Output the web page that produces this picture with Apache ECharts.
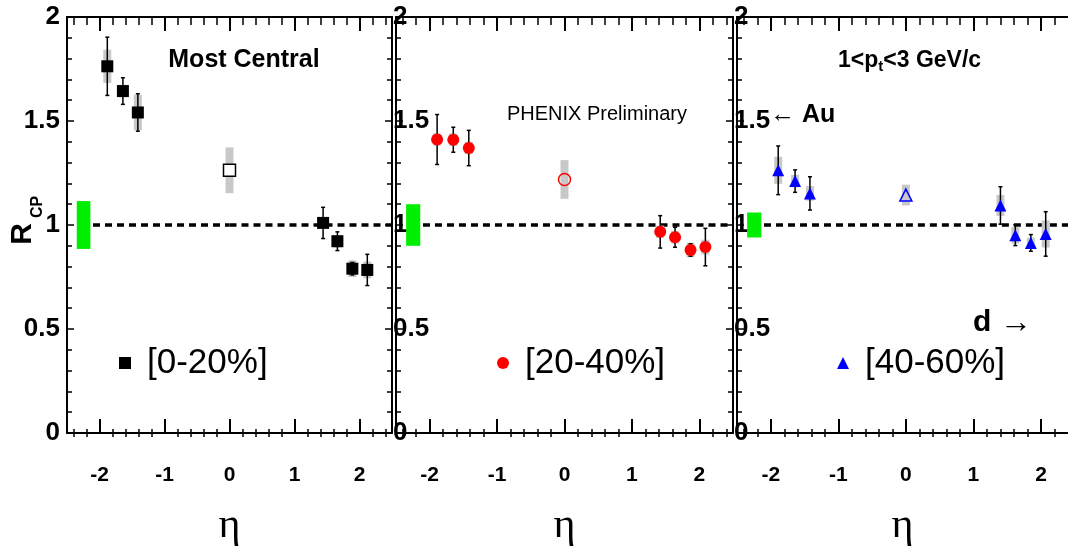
<!DOCTYPE html>
<html><head><meta charset="utf-8">
<script src="https://cdn.jsdelivr.net/npm/echarts@6/dist/echarts.min.js"></script>
<style>html,body{margin:0;padding:0;background:#fff}#c{width:1068px;height:552px}</style>
</head><body><div id="c"></div>
<script>
// ---------- data ----------
const xMajorTicks = [-2, -1, 0, 1, 2];
const xMinorTicks = [-2.4, -2.2, -1.8, -1.6, -1.4, -1.2, -0.8, -0.6, -0.4, -0.2, 0.2, 0.4, 0.6, 0.8, 1.2, 1.4, 1.6, 1.8, 2.2, 2.4];
const legendNames = ['[0-20%]', '[20-40%]', '[40-60%]'];

const eta1 = [-1.88, -1.64, -1.41, 1.44, 1.66, 1.89, 2.12];
const rcp1 = [1.763, 1.644, 1.541, 1.010, 0.922, 0.790, 0.784];
const stat1 = [0.14, 0.064, 0.09, 0.075, 0.045, 0.03, 0.075];
const sys1 = [0.08, 0.03, 0.085, 0.025, 0.03, 0.04, 0.04];

const eta2 = [-1.89, -1.65, -1.42, 1.42, 1.64, 1.87, 2.09];
const rcp2 = [1.411, 1.410, 1.370, 0.967, 0.941, 0.880, 0.894];
const stat2 = [0.12, 0.06, 0.085, 0.078, 0.048, 0.03, 0.09];
const sys2 = [0.03, 0.03, 0.03, 0.03, 0.03, 0.035, 0.035];

const eta3 = [-1.89, -1.64, -1.42, 1.40, 1.62, 1.85, 2.07];
const rcp3 = [1.263, 1.211, 1.152, 1.094, 0.951, 0.914, 0.957];
const stat3 = [0.117, 0.054, 0.08, 0.09, 0.05, 0.04, 0.107];
const sys3 = [0.065, 0.03, 0.035, 0.05, 0.04, 0.025, 0.065];

const midEta = [0, 0, 0];
const midRcp = [1.263, 1.219, 1.144];
const midSys = [0.11, 0.093, 0.05];

const normErr = [0.115, 0.10, 0.06];
const normEta = [-2.35, -2.14];
const unitySegments = [[-2.1, 0], [0, 2.5]];
const etaMin = -2.5;
const etaMax = [2.5, 2.5, 2.4];   // third panel is cut by the picture's right edge

// ---------- layout / style ----------
const FONT = '"Liberation Sans", Arial, Helvetica, sans-serif';
const panels = [
  {box: {left: 67, width: 325}, eta: eta1, rcp: rcp1, stat: stat1, sys: sys1, color: '#000000', symbol: 'rect', midFill: '#ffffff', legendLeft: 119, rightAxis: true},
  {box: {left: 396, width: 337}, eta: eta2, rcp: rcp2, stat: stat2, sys: sys2, color: '#ff0000', symbol: 'circle', midFill: 'rgba(0,0,0,0)', legendLeft: 497, rightAxis: true},
  {box: {left: 737, width: 331}, eta: eta3, rcp: rcp3, stat: stat3, sys: sys3, color: '#0000ff', symbol: 'triangle', midFill: 'rgba(0,0,0,0)', legendLeft: 837, rightAxis: false}
];
const TOP = 17, HEIGHT = 420;

const grid = [], xAxis = [], yAxis = [], series = [], legend = [];
panels.forEach(p => grid.push(Object.assign({top: TOP, height: HEIGHT, containLabel: false}, p.box)));
panels.forEach(p => grid.push(Object.assign({top: TOP, height: HEIGHT, containLabel: false}, p.box)));

function xMajor(gi, pos, max) {
  const bottom = pos === 'bottom';
  return {
    type: 'value', gridIndex: gi, position: pos, min: etaMin, max: max,
    axisLine: {show: true, onZero: false, lineStyle: {color: '#000', width: 2}},
    axisTick: {show: true, inside: true, length: 14, customValues: xMajorTicks, lineStyle: {color: '#000', width: 2}},
    axisLabel: {show: bottom, customValues: xMajorTicks, fontSize: 21, fontWeight: 'bold', color: '#000', margin: 32, fontFamily: FONT},
    splitLine: {show: false},
    name: bottom ? 'η' : '', nameLocation: 'middle', nameGap: 72,
    nameTextStyle: {fontSize: 42, fontFamily: '"Liberation Serif", "DejaVu Serif", serif', color: '#000'}
  };
}
function xMinor(gi, pos, max) {
  return {
    type: 'value', gridIndex: gi, position: pos, min: etaMin, max: max,
    axisLine: {show: false, onZero: false},
    axisTick: {show: true, inside: true, length: 8, customValues: xMinorTicks.filter(v => v < max), lineStyle: {color: '#000', width: 1.5}},
    axisLabel: {show: false}, splitLine: {show: false}
  };
}
function yAx(gi, pos, pi, visible) {
  const left = pos === 'left';
  return {
    type: 'value', gridIndex: gi, position: pos, min: 0, max: 2, interval: 0.5, show: visible,
    axisLine: {show: true, onZero: false, lineStyle: {color: '#000', width: 2}},
    axisTick: {show: true, inside: true, length: 7, lineStyle: {color: '#000', width: 1.5}},
    minorTick: {show: true, splitNumber: 5, length: 5, lineStyle: {color: '#000', width: 1.5}},
    axisLabel: {show: left, inside: pi > 0, margin: pi > 0 ? -3 : 7, fontSize: 26, fontWeight: 'bold', color: '#000', fontFamily: FONT},
    splitLine: {show: false}
  };
}

panels.forEach((p, i) => {
  xAxis.push(xMajor(i, 'bottom', etaMax[i]));   // 2i
  xAxis.push(xMajor(i, 'top', etaMax[i]));      // 2i+1
  yAxis.push(yAx(i, 'left', i, true));          // 2i
  yAxis.push(yAx(i, 'right', i, p.rightAxis));  // 2i+1
});
panels.forEach((p, i) => {
  xAxis.push(xMinor(i + 3, 'bottom', etaMax[i]));
  xAxis.push(xMinor(i + 3, 'top', etaMax[i]));
  yAxis.push({type: 'value', gridIndex: i + 3, min: 0, max: 2, show: false, axisLine: {onZero: false}});
});

panels.forEach((p, i) => {
  const xi = 2 * i, yi = 2 * i;
  // normalisation box
  series.push({
    type: 'custom', xAxisIndex: xi, yAxisIndex: yi, z: 1, silent: true,
    data: [[normEta[0], normEta[1], 1 - normErr[i], 1 + normErr[i]]],
    encode: {x: [0, 1], y: [2, 3]},
    renderItem: (params, api) => {
      const a = api.coord([api.value(0), api.value(3)]);
      const b = api.coord([api.value(1), api.value(2)]);
      return {type: 'rect', shape: {x: a[0], y: a[1], width: b[0] - a[0], height: b[1] - a[1]}, style: {fill: '#00ee00'}};
    }
  });
  // unity dashed line
  series.push({
    type: 'custom', xAxisIndex: xi, yAxisIndex: yi, z: 2, silent: true,
    data: unitySegments.map(s => [s[0], s[1], 1]),
    encode: {x: [0, 1], y: 2},
    renderItem: (params, api) => {
      const a = api.coord([api.value(0), api.value(2)]);
      const b = api.coord([api.value(1), api.value(2)]);
      return {type: 'line', shape: {x1: a[0], y1: a[1], x2: b[0], y2: b[1]}, style: {stroke: '#000', lineWidth: 3.5, lineDash: [7, 5]}};
    }
  });
  // systematic boxes (including central point)
  const sysData = p.eta.map((e, k) => [e, p.rcp[k], p.sys[k]]).concat([[midEta[i], midRcp[i], midSys[i]]]);
  series.push({
    type: 'custom', xAxisIndex: xi, yAxisIndex: yi, z: 3, silent: true,
    data: sysData, encode: {x: 0, y: 1},
    renderItem: (params, api) => {
      const x = api.value(0), y = api.value(1), s = api.value(2);
      const t = api.coord([x, y + s]), b = api.coord([x, y - s]);
      return {type: 'rect', shape: {x: t[0] - 4, y: t[1], width: 8, height: b[1] - t[1]}, style: {fill: '#c8c8c8'}};
    }
  });
  // statistical error bars
  series.push({
    type: 'custom', xAxisIndex: xi, yAxisIndex: yi, z: 4, silent: true,
    data: p.eta.map((e, k) => [e, p.rcp[k], p.stat[k]]), encode: {x: 0, y: 1},
    renderItem: (params, api) => {
      const x = api.value(0), y = api.value(1), s = api.value(2);
      const t = api.coord([x, y + s]), b = api.coord([x, y - s]);
      const st = {stroke: '#000', lineWidth: 1.5};
      return {type: 'group', children: [
        {type: 'line', shape: {x1: t[0], y1: t[1], x2: b[0], y2: b[1]}, style: st},
        {type: 'line', shape: {x1: t[0] - 2, y1: t[1], x2: t[0] + 2, y2: t[1]}, style: st},
        {type: 'line', shape: {x1: b[0] - 2, y1: b[1], x2: b[0] + 2, y2: b[1]}, style: st}
      ]};
    }
  });
  // main points
  series.push({
    type: 'scatter', name: legendNames[i], xAxisIndex: xi, yAxisIndex: yi, z: 5,
    symbol: p.symbol, symbolSize: 12, itemStyle: {color: p.color, opacity: 1},
    data: p.eta.map((e, k) => [e, p.rcp[k]])
  });
  // central open point
  series.push({
    type: 'scatter', name: 'mid' + i, xAxisIndex: xi, yAxisIndex: yi, z: 6,
    symbol: p.symbol, symbolSize: 12,
    itemStyle: {color: p.midFill, borderColor: p.color, borderWidth: 1.5, opacity: 1},
    data: [[midEta[i], midRcp[i]]]
  });
  legend.push({
    data: [{name: legendNames[i], icon: p.symbol}], left: p.legendLeft, top: 344,
    itemWidth: 12, itemHeight: 12, selectedMode: false, padding: 0,
    textStyle: {fontSize: 35, lineHeight: 38, color: '#000', fontFamily: FONT, padding: [0, 0, 0, 11]}
  });
});

const graphic = [
  {type: 'text', x: 23, y: 234, rotation: Math.PI / 2, style: {text: 'R', fontSize: 30, fontWeight: 'bold', fontFamily: FONT, fill: '#000', align: 'center', verticalAlign: 'middle'}},
  {type: 'text', x: 38, y: 207, rotation: Math.PI / 2, style: {text: 'CP', fontSize: 16, fontWeight: 'bold', fontFamily: FONT, fill: '#000', align: 'center', verticalAlign: 'middle'}},
  {type: 'text', x: 244, y: 60, style: {text: 'Most Central', fontSize: 25, fontWeight: 'bold', fontFamily: FONT, fill: '#000', align: 'center', verticalAlign: 'middle'}},
  {type: 'text', x: 597, y: 114, style: {text: 'PHENIX Preliminary', fontSize: 20, fontFamily: FONT, fill: '#000', align: 'center', verticalAlign: 'middle'}},
  {type: 'text', x: 838, y: 61, style: {
    text: '{a|1<p}{s|t}{a|<3 GeV/c}', align: 'left', verticalAlign: 'middle',
    rich: {a: {fontSize: 23, fontWeight: 'bold', fontFamily: FONT, fill: '#000'},
           s: {fontSize: 15, fontWeight: 'bold', fontFamily: FONT, fill: '#000', padding: [12, 0, 0, 0]}}}},
  {type: 'text', x: 770, y: 115, style: {
    text: '{r|←}{b| Au}', align: 'left', verticalAlign: 'middle',
    rich: {r: {fontSize: 25, fontFamily: FONT, fill: '#000'}, b: {fontSize: 25, fontWeight: 'bold', fontFamily: FONT, fill: '#000'}}}},
  {type: 'text', x: 973, y: 323, style: {
    text: '{b|d }{r|→}', align: 'left', verticalAlign: 'middle',
    rich: {r: {fontSize: 32, fontFamily: FONT, fill: '#000'}, b: {fontSize: 30, fontWeight: 'bold', fontFamily: FONT, fill: '#000'}}}}
];

const chart = echarts.init(document.getElementById('c'), null, {renderer: 'canvas'});
chart.setOption({
  animation: false, backgroundColor: '#fff',
  grid, xAxis, yAxis, series, legend, graphic
});
</script></body></html>
